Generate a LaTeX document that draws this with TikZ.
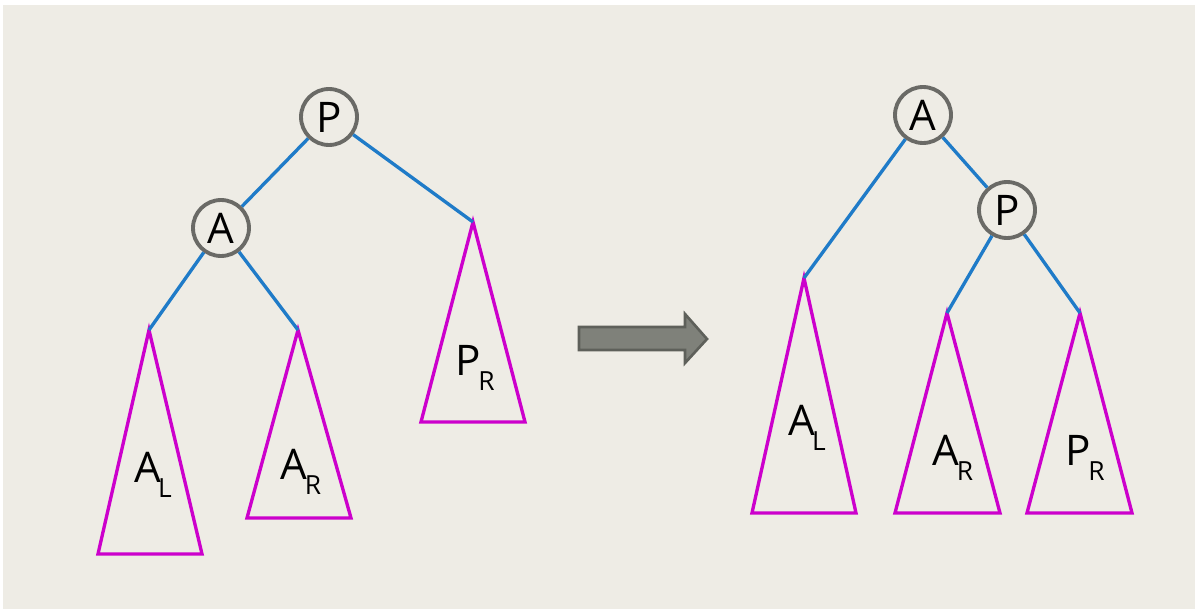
\documentclass[tikz,border=0pt]{standalone}
\usepackage{fontspec}
\setmainfont{Open Sans}
\definecolor{paper}{HTML}{EEECE5}
\definecolor{edgeblue}{HTML}{1F7BC8}
\definecolor{treemag}{HTML}{CC00CC}
\definecolor{ringgray}{HTML}{6A6A66}
\definecolor{arrowfill}{HTML}{7F817A}
\definecolor{arrowline}{HTML}{5E605A}
\tikzset{
  key/.style={circle,draw=ringgray,line width=2.2pt,fill=paper,minimum size=1.12cm,inner sep=0pt,font=\fontsize{24}{28}\selectfont},
  link/.style={edgeblue,line width=1.9pt},
  subtree/.style={treemag,line width=1.9pt,line join=miter},
  lbl/.style={font=\fontsize{24}{28}\selectfont,inner sep=0pt}
}
\newcommand{\sublbl}[2]{#1\kern-0.06em\raisebox{-0.34em}{\fontsize{15}{17}\selectfont #2}}
\begin{document}
\begin{tikzpicture}[x=0.02cm,y=-0.02cm]
    \useasboundingbox (0,0) rectangle (1197,611);
    \fill[white] (0,0) rectangle (1197,611);
    \fill[paper] (3,5) rectangle (1195,609);
    %% before rotation
    \coordinate (AL) at (149,330);
    \coordinate (AR) at (298,330);
    \coordinate (PR) at (473,222);
    \draw[subtree] (AL) -- (202,554) -- (98,554) -- cycle;
    \draw[subtree] (AR) -- (351,518) -- (247,518) -- cycle;
    \draw[subtree] (PR) -- (525,422) -- (421,422) -- cycle;
    \node[key] (P) at (329,117) {P};
    \node[key] (A) at (221,228) {A};
    \draw[link] (P) -- (A);
    \draw[link] (P) -- (PR);
    \draw[link] (A) -- (AL);
    \draw[link] (A) -- (AR);
    \node[lbl] (tAL) at (153,475) {\sublbl{A}{L}};
    \node[lbl] (tAR) at (301,472) {\sublbl{A}{R}};
    \node[lbl] (tPR) at (475,368) {\sublbl{P}{R}};
    %% rotation arrow
    \draw[arrowline,fill=arrowfill,line width=1.5pt,line join=miter]
        (579,327) -- (685,327) -- (685,314) -- (707,339) -- (685,363) -- (685,350) -- (579,350) -- cycle;
    %% after rotation
    \coordinate (AL2) at (804,278);
    \coordinate (AR2) at (947,313);
    \coordinate (PR2) at (1080,313);
    \draw[subtree] (AL2) -- (856,513) -- (752,513) -- cycle;
    \draw[subtree] (AR2) -- (1000,513) -- (895,513) -- cycle;
    \draw[subtree] (PR2) -- (1132,513) -- (1027,513) -- cycle;
    \node[key] (A2) at (923,115) {A};
    \node[key] (P2) at (1007,210) {P};
    \draw[link] (A2) -- (P2);
    \draw[link] (A2) -- (AL2);
    \draw[link] (P2) -- (AR2);
    \draw[link] (P2) -- (PR2);
    \node[lbl] (tAL2) at (807,428) {\sublbl{A}{L}};
    \node[lbl] (tAR2) at (953,458) {\sublbl{A}{R}};
    \node[lbl] (tPR2) at (1085,458) {\sublbl{P}{R}};
\end{tikzpicture}
\end{document}
